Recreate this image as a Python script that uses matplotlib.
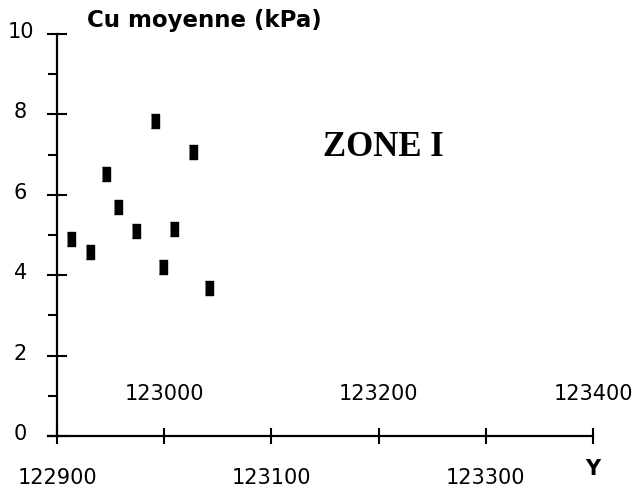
import matplotlib.pyplot as plt
from matplotlib.ticker import FixedLocator, NullFormatter
from matplotlib.transforms import blended_transform_factory, ScaledTranslation

# data (Y coordinate vs mean Cu)
y_coord = [122913, 122931, 122946, 122957, 122974, 122991, 122999, 123009, 123027, 123042]
cu_mean = [4.90, 4.57, 6.52, 5.69, 5.09, 7.83, 4.21, 5.16, 7.07, 3.67]

xticks_low = [122900, 123100, 123300]
xticks_high = [123000, 123200, 123400]
yticks_major = [0, 2, 4, 6, 8, 10]
yticks_minor = [1, 3, 5, 7, 9]

plt.rcParams['font.family'] = ['DejaVu Sans']

W, H = 635, 495
fig = plt.figure(figsize=(W / 100, H / 100), dpi=100)
# axes box: y axis at x=57px, right end 593px; y=0 at 436px, y=10 at 34px
x0_px, x1_px = 48, 594
ax = fig.add_axes([x0_px / W, (H - 436) / H, (x1_px - x0_px) / W, 402 / H])

px_per_unit = (593 - 57) / 500
ax.set_xlim(122900 - (57 - x0_px) / px_per_unit, 123400 + (x1_px - 593) / px_per_unit)
ax.set_ylim(0, 10)

for s in ['top', 'right']:
    ax.spines[s].set_visible(False)
ax.spines['left'].set_position(('data', 122900))
ax.spines['left'].set_linewidth(1.6)
ax.spines['bottom'].set_linewidth(1.6)
ax.spines['bottom'].set_bounds(ax.get_xlim()[0], 123400)

# rectangular, slightly tall markers
rect = [(-0.33, -0.5), (0.33, -0.5), (0.33, 0.5), (-0.33, 0.5)]
ax.plot(y_coord, cu_mean, linestyle='none', marker=rect, markersize=9.5,
        color='black', clip_on=False)

ax.xaxis.set_major_locator(FixedLocator(sorted(xticks_low + xticks_high)))
ax.xaxis.set_major_formatter(NullFormatter())
ax.tick_params(axis='x', which='major', direction='inout', length=12, width=1.5)

ax.yaxis.set_major_locator(FixedLocator(yticks_major))
ax.yaxis.set_minor_locator(FixedLocator(yticks_minor))
ax.tick_params(axis='y', which='major', direction='inout', length=14, width=1.5,
               labelsize=15, pad=20)
ax.tick_params(axis='y', which='minor', direction='out', length=6.5, width=1.5)
shift = ScaledTranslation(1 / 100, 4 / 100, fig.dpi_scale_trans)
for lab in ax.get_yticklabels():
    lab.set_horizontalalignment('center')
    lab.set_transform(lab.get_transform() + shift)

# staggered x tick labels
tr = blended_transform_factory(ax.transData, fig.transFigure)
for v in xticks_high:
    ax.text(v, 1 - 394 / H, str(v), transform=tr, ha='center', va='center', fontsize=15)
for v in xticks_low:
    ax.text(v, 1 - 478 / H, str(v), transform=tr, ha='center', va='center', fontsize=15)

fig.text(593 / W, 1 - 469 / H, 'Y', ha='center', va='center', fontsize=15, fontweight='bold')
fig.text(87 / W, 1 - 20 / H, 'Cu moyenne (kPa)', ha='left', va='center',
         fontsize=16.5, fontweight='bold')
fig.text(383 / W, 1 - 147 / H, 'ZONE I', ha='center', va='center',
         fontsize=25, fontweight='bold', family=['Liberation Serif', 'DejaVu Serif'])

fig.savefig('out.png', dpi=100)
